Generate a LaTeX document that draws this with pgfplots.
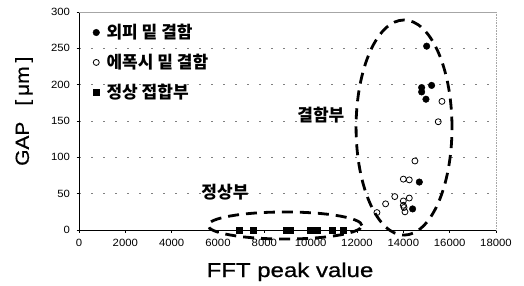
\documentclass[border=0pt]{standalone}
\usepackage{pgfplots}
\pgfplotsset{compat=1.18}
\usepackage{fontspec}
\setmainfont{Liberation Sans}
\newfontfamily\widefont{Liberation Sans}[FakeStretch=1.2, FakeBold=0.8]
\newfontfamily\ylfont{Liberation Sans}[FakeStretch=1.1, FakeBold=0.8]
\newfontfamily\tickfont{Liberation Sans}[FakeStretch=1.08]
\newfontfamily\kr{Noto Sans CJK KR}
\begin{document}
\begin{tikzpicture}
\useasboundingbox (0,0) rectangle (524pt,285pt);
\begin{axis}[
  at={(79pt,55pt)}, anchor=south west,
  scale only axis, width=417pt, height=218pt,
  xmin=0, xmax=18000, ymin=0, ymax=300,
  xtick={0,2000,...,18000}, ytick={0,50,...,300},
  scaled x ticks=false, scaled y ticks=false,
  axis lines*=left,
  axis line style={black, line width=0.8pt},
  tick align=outside, major tick length=2.5pt,
  tick style={black, line width=0.5pt},
  ymajorgrids, major grid style={gray, line width=0.6pt, dash pattern=on 2pt off 10pt},
  /pgf/number format/1000 sep={},
  /pgf/number format/assume math mode=true,
  ticklabel style={font=\tickfont\fontsize{10.5}{12}\selectfont},
  xticklabel style={yshift=-3pt},
  yticklabel style={xshift=-3pt},
  clip=false,
  legend style={at={(0.033,0.948)}, anchor=north west, draw=none, fill=none,
     inner sep=0pt, row sep=12pt, column sep=0pt, font=\kr\bfseries\fontsize{17}{19}\selectfont,
     nodes={inner sep=1pt},
     /tikz/every odd column/.append style={column sep=6pt}},
  legend cell align=left,
  legend image code/.code={\draw[#1] plot coordinates {(4pt,0pt)};},
]
\draw[gray!70, line width=0.6pt] (rel axis cs:0,1) -- (rel axis cs:1,1);
\draw[gray!70, line width=0.6pt, densely dotted] (rel axis cs:1,1) -- (rel axis cs:1,0);

\addplot[only marks, mark=*, mark size=3.3pt, black] coordinates {
(15007,253) (14790,196) (14790,190) (15220,199) (14977,180) (14690,66) (14400,29)
};
\addlegendentry{외피 밑 결함}
\addplot[only marks, mark=o, mark size=3pt, black, mark options={line width=0.8pt}] coordinates {
(12860,24) (13235,36) (13630,46) (14000,70) (14257,69) (14257,44) (14000,40)
(14000,34) (14030,31) (14070,25) (14500,95) (15507,149) (15667,177)
};
\addlegendentry{에폭시 밑 결함}
\addplot[only marks, mark=square*, mark size=3pt, black] coordinates {
(6900,0) (7500,0) (8950,0) (9100,0) (10000,0) (10150,0) (10300,0) (10950,0) (11400,0)
};
\addlegendentry{정상 접합부}

\draw[black, line width=2.8pt, dash pattern=on 11pt off 7pt] (axis cs:14030,141) ellipse [x radius=2070, y radius=148];
\draw[black, line width=2.8pt, dash pattern=on 11pt off 7pt] (axis cs:8890,6.2) ellipse [x radius=3320, y radius=18.6];

\node[font=\kr\bfseries\fontsize{17}{19}\selectfont] at (axis cs:10440,158) {결함부};
\node[font=\kr\bfseries\fontsize{17}{19}\selectfont] at (axis cs:6300,52) {정상부};

\node[font=\widefont\fontsize{20}{24}\selectfont, anchor=base] at (axis description cs:0.506,-0.2156) {FFT peak value};
\node[font=\ylfont\fontsize{19}{22}\selectfont, rotate=90] at (axis description cs:-0.132,0.545) {GAP\hspace{16pt}[\hspace{4pt}μm\hspace{4pt}]};
\end{axis}
\end{tikzpicture}
\end{document}
